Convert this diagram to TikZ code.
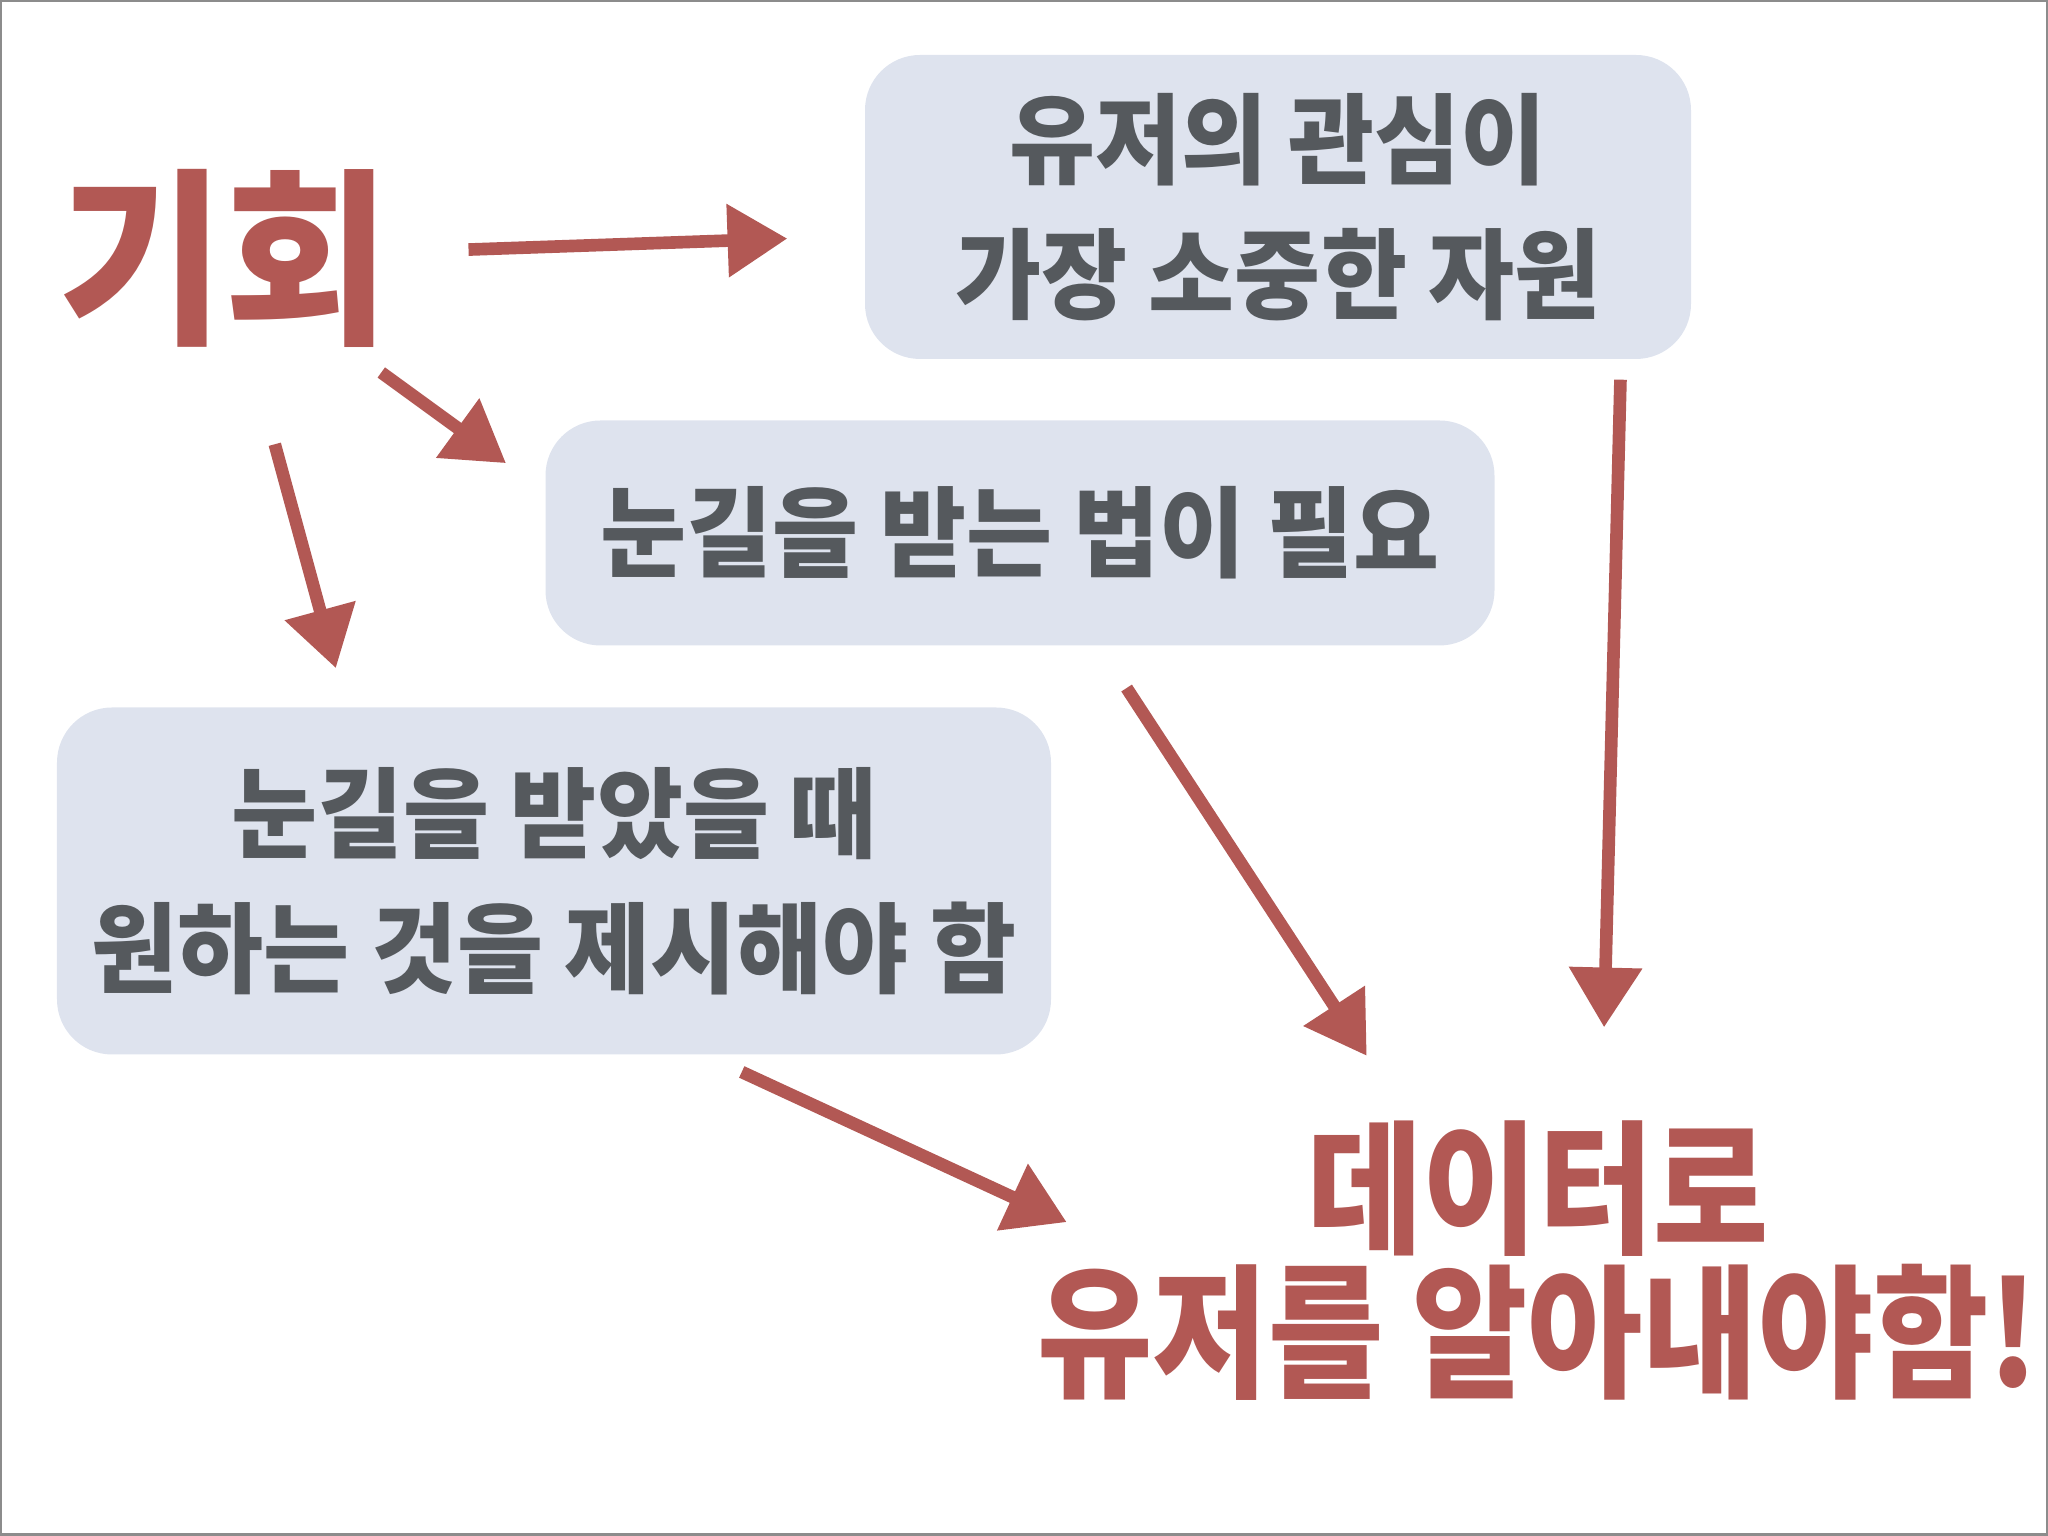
\documentclass[tikz,border=0pt]{standalone}
\usepackage{fontspec}
\usepackage{xcolor}
\usepackage{tikz}
\usetikzlibrary{arrows.meta, positioning, calc}
\newfontfamily\kr{Noto Sans CJK KR}[FakeStretch=0.95]
\newfontfamily\krnarrow{Noto Sans CJK KR}[FakeStretch=0.87]
\definecolor{ChalkRed}{RGB}{178, 88, 84}
\definecolor{BubbleBg}{RGB}{222, 227, 238}
\definecolor{InkGray}{RGB}{85, 89, 93}
\definecolor{FrameGray}{RGB}{140, 140, 140}

\begin{document}
\begin{tikzpicture}[
    bubble/.style={fill=BubbleBg, rounded corners=0.55cm, text=InkGray, align=center, inner sep=0pt,
        font=\kr\bfseries\fontsize{28}{38.5}\selectfont},
    chalk/.style={draw=ChalkRed, line width=3.6pt, -{Triangle[length=17pt, width=20pt]}},
]
    % 캔버스와 테두리
    \useasboundingbox (0,0) rectangle (20.48,15.36);
    \draw[FrameGray, line width=0.25mm] (0.0125,0.0125) rectangle (20.4675,15.3475);

    % 키워드
    \node[text=ChalkRed, inner sep=0pt, font=\kr\bfseries\fontsize{54}{60}\selectfont] (giho) at (2.24, 12.78) {기회};

    % 말풍선 세 개
    \node[bubble, minimum width=8.26cm, minimum height=3.04cm] (interest) at (12.78, 13.29) {유저의 관심이\\가장 소중한 자원};
    \node[bubble, minimum width=9.49cm, minimum height=2.25cm] (attention) at (10.20, 10.03) {눈길을 받는 법이 필요};
    \node[bubble, minimum width=9.94cm, minimum height=3.47cm] (offer) at (5.54, 6.55) {눈길을 받았을 때\\원하는 것을 제시해야 함};

    % 결론
    \node[text=ChalkRed, align=center, inner sep=0pt, minimum width=10cm, minimum height=3cm,
        font=\krnarrow\bfseries\fontsize{41}{41}\selectfont] (goal) at (15.38, 2.75) {데이터로\\유저를 알아내야함!};

    % 화살표
    \draw[chalk, shorten <=0.78cm, shorten >=0.77cm] (giho) -- (interest.184);
    \draw[chalk, shorten <=0.42cm, shorten >=0.48cm] (giho) -- (attention.175.5);
    \draw[chalk, shorten <=1.0cm, shorten >=0.4cm] (giho) -- (offer.140);
    \draw[chalk, shorten <=0.5cm, shorten >=0.65cm] (attention.305) -- (goal.132);
    \draw[chalk, shorten <=0.2cm, shorten >=0.83cm] (interest.336) -- (goal.67);
    \draw[chalk, shorten <=0.4cm, shorten >=-0.33cm] (offer.311) -- (goal.174);
\end{tikzpicture}
\end{document}
